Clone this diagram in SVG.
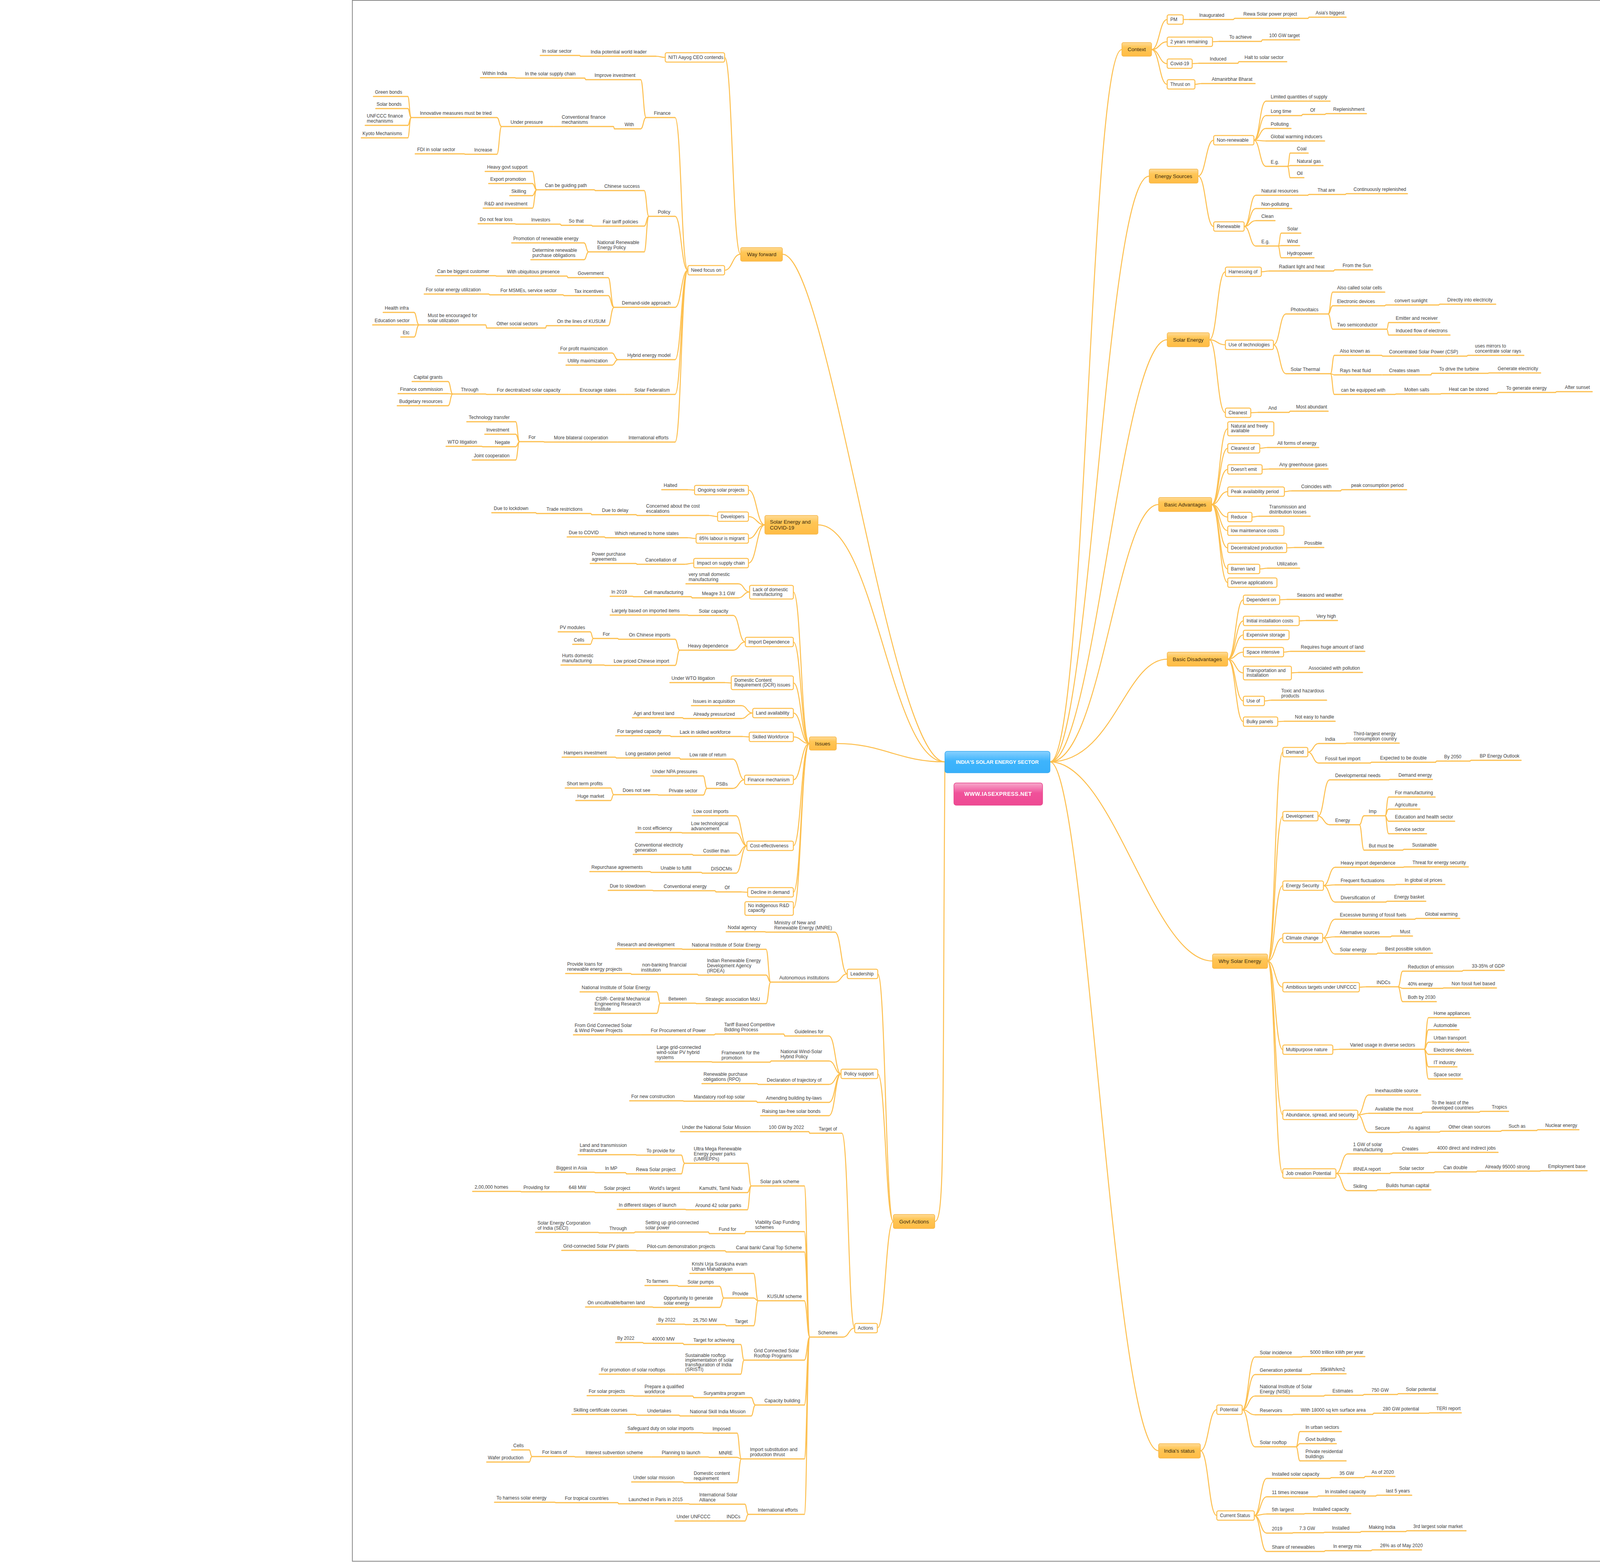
<svg xmlns="http://www.w3.org/2000/svg" width="5000" height="4000" viewBox="0 0 5000 4000">
<defs>
<linearGradient id="go" x1="0" y1="0" x2="0" y2="1"><stop offset="0" stop-color="#FFDB96"/><stop offset="0.35" stop-color="#FFC656"/><stop offset="1" stop-color="#FFBC45"/></linearGradient>
<linearGradient id="gb" x1="0" y1="0" x2="0" y2="1"><stop offset="0" stop-color="#88D1FF"/><stop offset="0.45" stop-color="#3EB4FC"/><stop offset="1" stop-color="#38B0FA"/></linearGradient>
<linearGradient id="gp" x1="0" y1="0" x2="0" y2="1"><stop offset="0" stop-color="#F7A8CB"/><stop offset="0.45" stop-color="#F0519A"/><stop offset="1" stop-color="#EE4A93"/></linearGradient>
<style>
.t{font-family:"Liberation Sans",Arial,sans-serif;font-size:12px;fill:#404040}
.u{fill:none;stroke:#FDBF4E;stroke-width:3;stroke-linecap:round}
.c path{fill:none;stroke:#FDBF4E;stroke-width:2.5}
.b{fill:#fff;stroke:#FDBF4E;stroke-width:2.5}
.m{fill:url(#go);stroke:#F6B544;stroke-width:1.5}
.mt{font-family:"Liberation Sans",Arial,sans-serif;font-size:13.5px;fill:#3a2a0c;text-anchor:middle}
.ct{font-family:"Liberation Sans",Arial,sans-serif;font-weight:bold;fill:#fff;text-anchor:middle}
</style>
</defs>
<rect width="5000" height="4000" fill="#fff"/>
<rect x="902" y="1" width="3196" height="3997" fill="none" stroke="#8a8a8a" stroke-width="2"/>
<g id="connectors" class="c">
<path d="M2688 1951C2780 1951 2790 127 2872 127"/>
<path d="M2688 1951C2790 1951 2830 451 2942 451"/>
<path d="M2688 1951C2800 1951 2870 870 2988 870"/>
<path d="M2688 1951C2820 1951 2860 1292 2966 1292"/>
<path d="M2688 1951C2850 1951 2880 1688 2988 1688"/>
<path d="M2688 1951C2850 1951 2950 2461 3104 2461"/>
<path d="M2688 1951C2780 1951 2850 3715 2966 3715"/>
<path d="M2419 1951C2280 1951 2120 651 2003 651"/>
<path d="M2419 1951C2280 1951 2240 1344 2094 1344"/>
<path d="M2419 1951C2300 1951 2260 1904 2141 1904"/>
<path d="M2419 1951C2412 2900 2420 3128 2393 3128"/>
<path d="M2948 127C2968 127 2968 50 2988 50"/>
<path d="M2948 127C2968 127 2968 107 2988 107"/>
<path d="M2948 127C2968 127 2968 163 2988 163"/>
<path d="M2948 127C2968 127 2968 216 2988 216"/>
<path d="M3029 50H3045"/>
<path d="M3157 50C3159 50 3159 47 3161 47"/>
<path d="M3348 47C3350 47 3350 44 3351 44"/>
<path d="M3104 107C3112 107 3112 106 3121 106"/>
<path d="M3229 106C3230 106 3230 102 3232 102"/>
<path d="M3052 163C3060 163 3060 162 3069 162"/>
<path d="M3169 162C3170 162 3170 158 3172 158"/>
<path d="M3059 216C3067 216 3067 214 3076 214"/>
<path d="M3067 451C3087 451 3087 359 3107 359"/>
<path d="M3067 451C3087 451 3087 580 3107 580"/>
<path d="M3210 359C3225 359 3225 259 3241 259"/>
<path d="M3210 359C3225 359 3225 296 3241 296"/>
<path d="M3210 359C3225 359 3225 329 3241 329"/>
<path d="M3210 359C3225 359 3225 361 3241 361"/>
<path d="M3210 359C3225 359 3225 426 3241 426"/>
<path d="M3332 296C3333 296 3333 293 3335 293"/>
<path d="M3392 293C3393 293 3393 291 3395 291"/>
<path d="M3296 426C3300 426 3300 392 3303 392"/>
<path d="M3296 426C3300 426 3300 424 3303 424"/>
<path d="M3296 426C3300 426 3300 455 3303 455"/>
<path d="M3185 580C3200 580 3200 500 3215 500"/>
<path d="M3185 580C3200 580 3200 534 3215 534"/>
<path d="M3185 580C3200 580 3200 565 3215 565"/>
<path d="M3185 580C3200 580 3200 630 3215 630"/>
<path d="M3348 500C3349 500 3349 498 3351 498"/>
<path d="M3444 498C3445 498 3445 496 3447 496"/>
<path d="M3272 630C3276 630 3276 597 3280 597"/>
<path d="M3272 630C3276 630 3276 629 3280 629"/>
<path d="M3272 630C3276 630 3276 660 3280 660"/>
<path d="M3096 870C3116 870 3116 696 3137 696"/>
<path d="M3096 870C3116 870 3116 883 3137 883"/>
<path d="M3096 870C3116 870 3116 1057 3137 1057"/>
<path d="M3229 696C3239 696 3239 694 3249 694"/>
<path d="M3414 694C3415 694 3415 691 3417 691"/>
<path d="M3260 883C3276 883 3276 804 3292 804"/>
<path d="M3260 883C3276 883 3276 957 3292 957"/>
<path d="M3400 804C3406 804 3406 748 3412 748"/>
<path d="M3400 804C3406 804 3406 783 3412 783"/>
<path d="M3400 804C3406 804 3406 843 3412 843"/>
<path d="M3545 783C3546 783 3546 781 3548 781"/>
<path d="M3683 781C3684 781 3684 779 3686 779"/>
<path d="M3550 843C3553 843 3553 826 3555 826"/>
<path d="M3550 843C3553 843 3553 858 3555 858"/>
<path d="M3406 957C3411 957 3411 910 3416 910"/>
<path d="M3406 957C3411 957 3411 960 3416 960"/>
<path d="M3406 957C3411 957 3411 1010 3416 1010"/>
<path d="M3537 910C3538 910 3538 912 3540 912"/>
<path d="M3755 912C3756 912 3756 910 3758 910"/>
<path d="M3536 960H3540"/>
<path d="M3663 960C3664 960 3664 956 3666 956"/>
<path d="M3809 956C3810 956 3810 955 3812 955"/>
<path d="M3571 1010C3572 1010 3572 1009 3574 1009"/>
<path d="M3687 1009C3688 1009 3688 1008 3690 1008"/>
<path d="M3832 1008C3833 1008 3833 1005 3835 1005"/>
<path d="M3982 1005C3983 1005 3983 1003 3985 1003"/>
<path d="M3202 1057C3211 1057 3211 1056 3221 1056"/>
<path d="M3300 1056C3301 1056 3301 1053 3303 1053"/>
<path d="M3102 1292C3122 1292 3122 1098 3143 1098"/>
<path d="M3102 1292C3122 1292 3122 1148 3143 1148"/>
<path d="M3102 1292C3122 1292 3122 1202 3143 1202"/>
<path d="M3102 1292C3122 1292 3122 1259 3143 1259"/>
<path d="M3102 1292C3122 1292 3122 1324 3143 1324"/>
<path d="M3102 1292C3122 1292 3122 1359 3143 1359"/>
<path d="M3102 1292C3122 1292 3122 1403 3143 1403"/>
<path d="M3102 1292C3122 1292 3122 1457 3143 1457"/>
<path d="M3102 1292C3122 1292 3122 1492 3143 1492"/>
<path d="M3225 1148C3235 1148 3235 1146 3245 1146"/>
<path d="M3231 1202C3240 1202 3240 1201 3250 1201"/>
<path d="M3288 1259C3297 1259 3297 1257 3307 1257"/>
<path d="M3432 1257C3433 1257 3433 1254 3435 1254"/>
<path d="M3205 1324C3214 1324 3214 1322 3223 1322"/>
<path d="M3294 1403C3304 1403 3304 1402 3314 1402"/>
<path d="M3225 1457C3235 1457 3235 1455 3245 1455"/>
<path d="M3143 1688C3163 1688 3163 1536 3183 1536"/>
<path d="M3143 1688C3163 1688 3163 1590 3183 1590"/>
<path d="M3143 1688C3163 1688 3163 1626 3183 1626"/>
<path d="M3143 1688C3163 1688 3163 1670 3183 1670"/>
<path d="M3143 1688C3163 1688 3163 1723 3183 1723"/>
<path d="M3143 1688C3163 1688 3163 1795 3183 1795"/>
<path d="M3143 1688C3163 1688 3163 1848 3183 1848"/>
<path d="M3276 1536C3285 1536 3285 1535 3295 1535"/>
<path d="M3326 1590C3335 1590 3335 1589 3344 1589"/>
<path d="M3286 1670C3295 1670 3295 1668 3304 1668"/>
<path d="M3306 1723C3315 1723 3315 1722 3324 1722"/>
<path d="M3237 1795C3246 1795 3246 1793 3255 1793"/>
<path d="M3271 1848C3279 1848 3279 1847 3288 1847"/>
<path d="M3245 2461C3264 2461 3264 1926 3284 1926"/>
<path d="M3245 2461C3264 2461 3264 2090 3284 2090"/>
<path d="M3245 2461C3264 2461 3264 2268 3284 2268"/>
<path d="M3245 2461C3264 2461 3264 2402 3284 2402"/>
<path d="M3245 2461C3264 2461 3264 2528 3284 2528"/>
<path d="M3245 2461C3264 2461 3264 2688 3284 2688"/>
<path d="M3245 2461C3264 2461 3264 2855 3284 2855"/>
<path d="M3245 2461C3264 2461 3264 3005 3284 3005"/>
<path d="M3348 1926C3362 1926 3362 1904 3376 1904"/>
<path d="M3348 1926C3362 1926 3362 1954 3376 1954"/>
<path d="M3444 1904C3445 1904 3445 1903 3447 1903"/>
<path d="M3508 1954C3509 1954 3509 1952 3511 1952"/>
<path d="M3675 1952C3676 1952 3676 1949 3678 1949"/>
<path d="M3763 1949C3764 1949 3764 1947 3766 1947"/>
<path d="M3374 2090C3389 2090 3389 1997 3404 1997"/>
<path d="M3374 2090C3389 2090 3389 2112 3404 2112"/>
<path d="M3555 1997C3556 1997 3556 1996 3558 1996"/>
<path d="M3480 2112C3486 2112 3486 2089 3492 2089"/>
<path d="M3480 2112C3486 2112 3486 2177 3492 2177"/>
<path d="M3546 2089C3550 2089 3550 2041 3555 2041"/>
<path d="M3546 2089C3550 2089 3550 2072 3555 2072"/>
<path d="M3546 2089C3550 2089 3550 2103 3555 2103"/>
<path d="M3546 2089C3550 2089 3550 2135 3555 2135"/>
<path d="M3591 2177C3592 2177 3592 2175 3594 2175"/>
<path d="M3388 2268C3403 2268 3403 2221 3418 2221"/>
<path d="M3388 2268C3403 2268 3403 2266 3418 2266"/>
<path d="M3388 2268C3403 2268 3403 2310 3418 2310"/>
<path d="M3592 2221C3593 2221 3593 2220 3595 2220"/>
<path d="M3571 2266C3572 2266 3572 2265 3574 2265"/>
<path d="M3548 2310C3549 2310 3549 2308 3551 2308"/>
<path d="M3386 2402C3402 2402 3402 2354 3418 2354"/>
<path d="M3386 2402C3402 2402 3402 2399 3418 2399"/>
<path d="M3386 2402C3402 2402 3402 2443 3418 2443"/>
<path d="M3622 2354C3623 2354 3623 2352 3625 2352"/>
<path d="M3560 2399C3561 2399 3561 2397 3563 2397"/>
<path d="M3524 2443C3525 2443 3525 2441 3527 2441"/>
<path d="M3480 2528C3489 2528 3489 2527 3498 2527"/>
<path d="M3579 2527C3585 2527 3585 2487 3591 2487"/>
<path d="M3579 2527C3585 2527 3585 2531 3591 2531"/>
<path d="M3579 2527C3585 2527 3585 2565 3591 2565"/>
<path d="M3743 2487C3744 2487 3744 2485 3746 2485"/>
<path d="M3693 2531C3694 2531 3694 2530 3696 2530"/>
<path d="M3412 2688C3421 2688 3421 2687 3430 2687"/>
<path d="M3646 2687C3651 2687 3651 2606 3657 2606"/>
<path d="M3646 2687C3651 2687 3651 2637 3657 2637"/>
<path d="M3646 2687C3651 2687 3651 2669 3657 2669"/>
<path d="M3646 2687C3651 2687 3651 2700 3657 2700"/>
<path d="M3646 2687C3651 2687 3651 2732 3657 2732"/>
<path d="M3646 2687C3651 2687 3651 2763 3657 2763"/>
<path d="M3476 2855C3490 2855 3490 2804 3504 2804"/>
<path d="M3476 2855C3490 2855 3490 2851 3504 2851"/>
<path d="M3476 2855C3490 2855 3490 2900 3504 2900"/>
<path d="M3639 2851C3640 2851 3640 2848 3642 2848"/>
<path d="M3787 2848C3788 2848 3788 2846 3790 2846"/>
<path d="M3582 2900C3583 2900 3583 2899 3585 2899"/>
<path d="M3685 2899C3686 2899 3686 2897 3688 2897"/>
<path d="M3842 2897C3843 2897 3843 2895 3845 2895"/>
<path d="M3934 2895C3935 2895 3935 2893 3937 2893"/>
<path d="M3420 3005C3435 3005 3435 2955 3450 2955"/>
<path d="M3420 3005H3450"/>
<path d="M3420 3005C3435 3005 3435 3049 3450 3049"/>
<path d="M3563 2955C3564 2955 3564 2953 3566 2953"/>
<path d="M3655 2953C3656 2953 3656 2951 3658 2951"/>
<path d="M3558 3005C3559 3005 3559 3003 3561 3003"/>
<path d="M3671 3003C3672 3003 3672 3001 3674 3001"/>
<path d="M3779 3001C3780 3001 3780 2999 3782 2999"/>
<path d="M3942 2999C3943 2999 3943 2998 3945 2998"/>
<path d="M3524 3049C3525 3049 3525 3047 3527 3047"/>
<path d="M3073 3715C3094 3715 3094 3610 3115 3610"/>
<path d="M3073 3715C3094 3715 3094 3881 3115 3881"/>
<path d="M3180 3610C3196 3610 3196 3475 3213 3475"/>
<path d="M3180 3610C3196 3610 3196 3520 3213 3520"/>
<path d="M3180 3610C3196 3610 3196 3575 3213 3575"/>
<path d="M3180 3610C3196 3610 3196 3623 3213 3623"/>
<path d="M3180 3610C3196 3610 3196 3705 3213 3705"/>
<path d="M3332 3475C3333 3475 3333 3474 3335 3474"/>
<path d="M3354 3520C3355 3520 3355 3518 3357 3518"/>
<path d="M3389 3575C3390 3575 3390 3573 3392 3573"/>
<path d="M3489 3573C3490 3573 3490 3571 3492 3571"/>
<path d="M3577 3571C3578 3571 3578 3569 3580 3569"/>
<path d="M3308 3623C3309 3623 3309 3622 3311 3622"/>
<path d="M3514 3622C3515 3622 3515 3619 3517 3619"/>
<path d="M3657 3619C3658 3619 3658 3618 3660 3618"/>
<path d="M3318 3705C3323 3705 3323 3666 3328 3666"/>
<path d="M3318 3705C3323 3705 3323 3697 3328 3697"/>
<path d="M3318 3705C3323 3705 3323 3741 3328 3741"/>
<path d="M3211 3881C3227 3881 3227 3786 3243 3786"/>
<path d="M3211 3881C3227 3881 3227 3833 3243 3833"/>
<path d="M3211 3881C3227 3881 3227 3877 3243 3877"/>
<path d="M3211 3881C3227 3881 3227 3926 3243 3926"/>
<path d="M3211 3881C3227 3881 3227 3973 3243 3973"/>
<path d="M3405 3786C3406 3786 3406 3784 3408 3784"/>
<path d="M3492 3784C3493 3784 3493 3781 3495 3781"/>
<path d="M3372 3833C3373 3833 3373 3831 3375 3831"/>
<path d="M3522 3831C3523 3831 3523 3829 3525 3829"/>
<path d="M3338 3877C3339 3877 3339 3876 3341 3876"/>
<path d="M3308 3926C3309 3926 3309 3925 3311 3925"/>
<path d="M3388 3925C3389 3925 3389 3924 3391 3924"/>
<path d="M3482 3924C3483 3924 3483 3922 3485 3922"/>
<path d="M3599 3922C3600 3922 3600 3920 3602 3920"/>
<path d="M3390 3973C3391 3973 3391 3971 3393 3971"/>
<path d="M3510 3971C3511 3971 3511 3969 3513 3969"/>
<path d="M1896 651C1875 651 1875 147 1855 147"/>
<path d="M1896 651C1875 651 1875 692 1855 692"/>
<path d="M1703 147C1691 147 1691 144 1679 144"/>
<path d="M1486 144C1485 144 1485 142 1484 142"/>
<path d="M1761 692C1744 692 1744 301 1728 301"/>
<path d="M1761 692C1744 692 1744 554 1728 554"/>
<path d="M1761 692C1744 692 1744 787 1728 787"/>
<path d="M1761 692C1744 692 1744 921 1728 921"/>
<path d="M1761 692C1744 692 1744 1010 1728 1010"/>
<path d="M1761 692C1744 692 1744 1132 1728 1132"/>
<path d="M1654 301C1647 301 1647 204 1640 204"/>
<path d="M1654 301C1647 301 1647 330 1640 330"/>
<path d="M1500 204C1498 204 1498 200 1497 200"/>
<path d="M1321 200C1320 200 1320 199 1318 199"/>
<path d="M1573 330C1572 330 1572 324 1570 324"/>
<path d="M1419 324H1416"/>
<path d="M1284 324C1278 324 1278 301 1272 301"/>
<path d="M1284 324C1278 324 1278 395 1272 395"/>
<path d="M1053 301C1048 301 1048 247 1044 247"/>
<path d="M1053 301C1048 301 1048 278 1044 278"/>
<path d="M1053 301C1048 301 1048 321 1044 321"/>
<path d="M1053 301C1048 301 1048 353 1044 353"/>
<path d="M1191 395C1190 395 1190 394 1188 394"/>
<path d="M1661 554C1655 554 1655 488 1649 488"/>
<path d="M1661 554C1655 554 1655 579 1649 579"/>
<path d="M1661 554C1655 554 1655 645 1649 645"/>
<path d="M1524 488C1523 488 1523 486 1521 486"/>
<path d="M1374 486C1368 486 1368 439 1363 439"/>
<path d="M1374 486C1368 486 1368 470 1363 470"/>
<path d="M1374 486C1368 486 1368 501 1363 501"/>
<path d="M1374 486C1368 486 1368 533 1363 533"/>
<path d="M1517 579C1516 579 1516 577 1514 577"/>
<path d="M1437 577C1436 577 1436 574 1434 574"/>
<path d="M1321 574C1320 574 1320 573 1318 573"/>
<path d="M1507 645C1501 645 1501 622 1495 622"/>
<path d="M1507 645C1501 645 1501 665 1495 665"/>
<path d="M1572 787C1564 787 1564 711 1557 711"/>
<path d="M1572 787C1564 787 1564 757 1557 757"/>
<path d="M1572 787C1564 787 1564 834 1557 834"/>
<path d="M1454 711C1453 711 1453 707 1451 707"/>
<path d="M1271 707C1270 707 1270 706 1268 706"/>
<path d="M1444 757C1443 757 1443 755 1441 755"/>
<path d="M1254 755C1253 755 1253 753 1251 753"/>
<path d="M1399 834C1398 834 1398 840 1396 840"/>
<path d="M1246 840C1245 840 1245 832 1243 832"/>
<path d="M1073 832C1066 832 1066 800 1060 800"/>
<path d="M1073 832H1060"/>
<path d="M1073 832C1066 832 1066 863 1060 863"/>
<path d="M1582 921C1574 921 1574 904 1567 904"/>
<path d="M1582 921C1574 921 1574 935 1567 935"/>
<path d="M1602 1010H1599"/>
<path d="M1458 1010H1455"/>
<path d="M1246 1010C1245 1010 1245 1009 1243 1009"/>
<path d="M1159 1009C1153 1009 1153 977 1147 977"/>
<path d="M1159 1009C1153 1009 1153 1008 1147 1008"/>
<path d="M1159 1009C1153 1009 1153 1039 1147 1039"/>
<path d="M1582 1132H1579"/>
<path d="M1394 1132C1393 1132 1393 1131 1391 1131"/>
<path d="M1330 1131C1325 1131 1325 1080 1320 1080"/>
<path d="M1330 1131C1325 1131 1325 1112 1320 1112"/>
<path d="M1330 1131C1325 1131 1325 1144 1320 1144"/>
<path d="M1330 1131C1325 1131 1325 1178 1320 1178"/>
<path d="M1236 1144C1235 1144 1235 1143 1233 1143"/>
<path d="M1958 1344C1937 1344 1937 1255 1916 1255"/>
<path d="M1958 1344C1937 1344 1937 1323 1916 1323"/>
<path d="M1958 1344C1937 1344 1937 1379 1916 1379"/>
<path d="M1958 1344C1937 1344 1937 1442 1916 1442"/>
<path d="M1778 1255C1769 1255 1769 1254 1760 1254"/>
<path d="M1837 1323C1826 1323 1826 1320 1814 1320"/>
<path d="M1631 1320C1630 1320 1630 1318 1628 1318"/>
<path d="M1515 1318C1514 1318 1514 1315 1512 1315"/>
<path d="M1374 1315C1373 1315 1373 1313 1371 1313"/>
<path d="M1782 1379C1771 1379 1771 1377 1760 1377"/>
<path d="M1550 1377C1549 1377 1549 1375 1547 1375"/>
<path d="M1776 1442C1764 1442 1764 1445 1752 1445"/>
<path d="M1631 1445C1630 1445 1630 1443 1628 1443"/>
<path d="M2072 1904C2051 1904 2051 1516 2031 1516"/>
<path d="M2072 1904C2051 1904 2051 1644 2031 1644"/>
<path d="M2072 1904C2051 1904 2051 1749 2031 1749"/>
<path d="M2072 1904C2051 1904 2051 1826 2031 1826"/>
<path d="M2072 1904C2051 1904 2051 1887 2031 1887"/>
<path d="M2072 1904C2051 1904 2051 1997 2031 1997"/>
<path d="M2072 1904C2051 1904 2051 2166 2031 2166"/>
<path d="M2072 1904C2051 1904 2051 2285 2031 2285"/>
<path d="M2072 1904C2051 1904 2051 2326 2031 2326"/>
<path d="M1919 1516C1904 1516 1904 1495 1890 1495"/>
<path d="M1919 1516C1904 1516 1904 1531 1890 1531"/>
<path d="M1772 1531C1771 1531 1771 1528 1769 1528"/>
<path d="M1622 1528C1621 1528 1621 1527 1619 1527"/>
<path d="M1908 1644C1892 1644 1892 1576 1877 1576"/>
<path d="M1908 1644C1892 1644 1892 1665 1877 1665"/>
<path d="M1763 1576C1762 1576 1762 1575 1760 1575"/>
<path d="M1740 1665C1734 1665 1734 1637 1728 1637"/>
<path d="M1740 1665C1734 1665 1734 1704 1728 1704"/>
<path d="M1584 1637C1583 1637 1583 1635 1581 1635"/>
<path d="M1519 1635C1515 1635 1515 1618 1511 1618"/>
<path d="M1519 1635C1515 1635 1515 1650 1511 1650"/>
<path d="M1549 1704C1548 1704 1548 1703 1546 1703"/>
<path d="M1872 1749C1864 1749 1864 1748 1855 1748"/>
<path d="M1927 1826C1912 1826 1912 1807 1898 1807"/>
<path d="M1927 1826C1912 1826 1912 1840 1898 1840"/>
<path d="M1750 1840C1749 1840 1749 1838 1747 1838"/>
<path d="M1918 1887C1909 1887 1909 1886 1900 1886"/>
<path d="M1718 1886C1717 1886 1717 1884 1715 1884"/>
<path d="M1906 1997C1891 1997 1891 1944 1876 1944"/>
<path d="M1906 1997C1891 1997 1891 2019 1876 2019"/>
<path d="M1742 1944C1741 1944 1741 1941 1739 1941"/>
<path d="M1578 1941C1577 1941 1577 1939 1575 1939"/>
<path d="M1810 2019C1805 2019 1805 1987 1800 1987"/>
<path d="M1810 2019C1805 2019 1805 2036 1800 2036"/>
<path d="M1686 2036C1685 2036 1685 2035 1683 2035"/>
<path d="M1571 2035C1567 2035 1567 2018 1563 2018"/>
<path d="M1571 2035C1567 2035 1567 2050 1563 2050"/>
<path d="M1912 2166C1898 2166 1898 2089 1884 2089"/>
<path d="M1912 2166C1898 2166 1898 2133 1884 2133"/>
<path d="M1912 2166C1898 2166 1898 2190 1884 2190"/>
<path d="M1912 2166C1898 2166 1898 2236 1884 2236"/>
<path d="M1747 2133C1746 2133 1746 2132 1744 2132"/>
<path d="M1775 2190C1774 2190 1774 2188 1772 2188"/>
<path d="M1798 2236C1797 2236 1797 2234 1795 2234"/>
<path d="M1667 2234C1666 2234 1666 2232 1664 2232"/>
<path d="M1914 2285C1906 2285 1906 2284 1897 2284"/>
<path d="M1833 2284C1832 2284 1832 2281 1830 2281"/>
<path d="M1673 2281C1672 2281 1672 2280 1670 2280"/>
<path d="M2287 3128C2267 3128 2267 2494 2247 2494"/>
<path d="M2287 3128C2267 3128 2267 2750 2247 2750"/>
<path d="M2287 3128C2267 3128 2267 3401 2246 3401"/>
<path d="M2169 2494C2153 2494 2153 2387 2137 2387"/>
<path d="M2169 2494C2153 2494 2153 2515 2137 2515"/>
<path d="M1961 2387C1960 2387 1960 2386 1958 2386"/>
<path d="M1973 2515C1967 2515 1967 2431 1961 2431"/>
<path d="M1973 2515C1967 2515 1967 2497 1961 2497"/>
<path d="M1973 2515C1967 2515 1967 2570 1961 2570"/>
<path d="M1748 2431C1747 2431 1747 2430 1745 2430"/>
<path d="M1788 2497C1787 2497 1787 2495 1785 2495"/>
<path d="M1617 2495C1616 2495 1616 2493 1614 2493"/>
<path d="M1783 2570C1782 2570 1782 2569 1780 2569"/>
<path d="M1690 2569C1686 2569 1686 2540 1681 2540"/>
<path d="M1690 2569C1686 2569 1686 2595 1681 2595"/>
<path d="M2153 2750C2138 2750 2138 2653 2122 2653"/>
<path d="M2153 2750C2138 2750 2138 2717 2122 2717"/>
<path d="M2153 2750C2138 2750 2138 2777 2122 2777"/>
<path d="M2153 2750C2138 2750 2138 2823 2122 2823"/>
<path d="M2153 2750C2138 2750 2138 2857 2122 2857"/>
<path d="M2009 2653C2008 2653 2008 2648 2006 2648"/>
<path d="M1831 2648C1830 2648 1830 2650 1828 2650"/>
<path d="M1642 2650H1639"/>
<path d="M1974 2717C1973 2717 1973 2720 1971 2720"/>
<path d="M1824 2720C1823 2720 1823 2719 1821 2719"/>
<path d="M1941 2777C1940 2777 1940 2775 1938 2775"/>
<path d="M1939 2823C1938 2823 1938 2820 1936 2820"/>
<path d="M1751 2820C1750 2820 1750 2819 1748 2819"/>
<path d="M2188 3401C2172 3401 2172 2902 2155 2902"/>
<path d="M2188 3401C2173 3401 2173 3424 2158 3424"/>
<path d="M2073 2902C2072 2902 2072 2898 2070 2898"/>
<path d="M1945 2898H1942"/>
<path d="M2073 3424C2066 3424 2066 3037 2059 3037"/>
<path d="M2073 3424C2066 3424 2066 3154 2059 3154"/>
<path d="M2073 3424C2066 3424 2066 3206 2059 3206"/>
<path d="M2073 3424C2066 3424 2066 3331 2059 3331"/>
<path d="M2073 3424C2066 3424 2066 3483 2059 3483"/>
<path d="M2073 3424C2066 3424 2066 3598 2059 3598"/>
<path d="M2073 3424C2066 3424 2066 3736 2059 3736"/>
<path d="M2073 3424C2066 3424 2066 3878 2059 3878"/>
<path d="M1923 3037C1918 3037 1918 2979 1913 2979"/>
<path d="M1923 3037C1918 3037 1918 3054 1913 3054"/>
<path d="M1923 3037C1918 3037 1918 3098 1913 3098"/>
<path d="M1753 2979C1748 2979 1748 2958 1744 2958"/>
<path d="M1753 2979C1748 2979 1748 3006 1744 3006"/>
<path d="M1630 2958C1629 2958 1629 2957 1627 2957"/>
<path d="M1604 3006C1603 3006 1603 3003 1601 3003"/>
<path d="M1524 3003C1523 3003 1523 3002 1521 3002"/>
<path d="M1767 3054H1764"/>
<path d="M1639 3054H1636"/>
<path d="M1524 3054C1523 3054 1523 3052 1521 3052"/>
<path d="M1429 3052H1426"/>
<path d="M1335 3052C1334 3052 1334 3051 1332 3051"/>
<path d="M1757 3098C1756 3098 1756 3097 1754 3097"/>
<path d="M1909 3154C1908 3154 1908 3159 1906 3159"/>
<path d="M1816 3159C1815 3159 1815 3155 1813 3155"/>
<path d="M1626 3155C1625 3155 1625 3157 1623 3157"/>
<path d="M1534 3157C1533 3157 1533 3156 1531 3156"/>
<path d="M1859 3206C1858 3206 1858 3203 1856 3203"/>
<path d="M1630 3203C1629 3203 1629 3202 1627 3202"/>
<path d="M1941 3331C1935 3331 1935 3261 1929 3261"/>
<path d="M1941 3331C1935 3331 1935 3324 1929 3324"/>
<path d="M1941 3331C1935 3331 1935 3395 1929 3395"/>
<path d="M1853 3324C1848 3324 1848 3294 1842 3294"/>
<path d="M1853 3324C1848 3324 1848 3348 1842 3348"/>
<path d="M1737 3294C1736 3294 1736 3292 1734 3292"/>
<path d="M1673 3348C1672 3348 1672 3347 1670 3347"/>
<path d="M1859 3395C1858 3395 1858 3392 1856 3392"/>
<path d="M1755 3392C1754 3392 1754 3391 1752 3391"/>
<path d="M1905 3483C1900 3483 1900 3443 1896 3443"/>
<path d="M1905 3483C1900 3483 1900 3519 1896 3519"/>
<path d="M1751 3443C1750 3443 1750 3440 1748 3440"/>
<path d="M1648 3440C1647 3440 1647 3438 1645 3438"/>
<path d="M1730 3519H1727"/>
<path d="M1934 3598C1928 3598 1928 3579 1923 3579"/>
<path d="M1934 3598C1928 3598 1928 3626 1923 3626"/>
<path d="M1776 3579C1775 3579 1775 3575 1773 3575"/>
<path d="M1623 3575C1622 3575 1622 3574 1620 3574"/>
<path d="M1741 3626C1740 3626 1740 3624 1738 3624"/>
<path d="M1630 3624C1629 3624 1629 3622 1627 3622"/>
<path d="M1898 3736C1892 3736 1892 3670 1887 3670"/>
<path d="M1898 3736C1892 3736 1892 3732 1887 3732"/>
<path d="M1898 3736C1892 3736 1892 3797 1887 3797"/>
<path d="M1801 3670C1800 3670 1800 3669 1798 3669"/>
<path d="M1816 3732C1815 3732 1815 3731 1813 3731"/>
<path d="M1669 3731H1666"/>
<path d="M1473 3731C1472 3731 1472 3730 1470 3730"/>
<path d="M1362 3730C1358 3730 1358 3713 1355 3713"/>
<path d="M1362 3730C1358 3730 1358 3744 1355 3744"/>
<path d="M1751 3797C1750 3797 1750 3795 1748 3795"/>
<path d="M1916 3878C1911 3878 1911 3852 1907 3852"/>
<path d="M1916 3878C1911 3878 1911 3895 1907 3895"/>
<path d="M1766 3852C1765 3852 1765 3851 1763 3851"/>
<path d="M1584 3851C1583 3851 1583 3848 1581 3848"/>
<path d="M1423 3848C1422 3848 1422 3847 1420 3847"/>
<path d="M1834 3895H1831"/>
</g>
<g id="center"><rect x="2419" y="1924" width="269" height="55" rx="6" fill="url(#gb)" stroke="#35A9F2" stroke-width="1.5"/><text class="ct" x="2553" y="1956" font-size="13">INDIA'S SOLAR ENERGY SECTOR</text></g>
<g id="site"><rect x="2442" y="2005" width="227" height="57" rx="6" fill="url(#gp)" stroke="#E8438A" stroke-width="1.5"/><text class="ct" x="2555" y="2038" font-size="14" letter-spacing="0.5">WWW.IASEXPRESS.NET</text></g>
<g id="context"><rect class="m" x="2872" y="109" width="76" height="35" rx="4"/><text class="mt" x="2910" y="131">Context</text></g>
<g id="pm"><rect class="b" x="2988" y="38" width="41" height="24" rx="4"/><text class="t" x="2996" y="54">PM</text></g>
<g id="inaug"><text class="t" x="3070" y="43">Inaugurated</text><path class="u" d="M3045 50H3157"/></g>
<g id="rewa1"><text class="t" x="3183" y="40">Rewa Solar power project</text><path class="u" d="M3161 47H3348"/></g>
<g id="asia"><text class="t" x="3368" y="37">Asia's biggest</text><path class="u" d="M3351 44H3446"/></g>
<g id="yrs"><rect class="b" x="2988" y="95" width="116" height="24" rx="4"/><text class="t" x="2996" y="111">2 years remaining</text></g>
<g id="achieve"><text class="t" x="3147" y="99">To achieve</text><path class="u" d="M3121 106H3229"/></g>
<g id="gw100"><text class="t" x="3249" y="95">100 GW target</text><path class="u" d="M3232 102H3327"/></g>
<g id="covid"><rect class="b" x="2988" y="151" width="64" height="24" rx="4"/><text class="t" x="2996" y="167">Covid-19</text></g>
<g id="induced"><text class="t" x="3097" y="155">Induced</text><path class="u" d="M3069 162H3169"/></g>
<g id="halt"><text class="t" x="3186" y="151">Halt to solar sector</text><path class="u" d="M3172 158H3294"/></g>
<g id="thrust"><rect class="b" x="2988" y="204" width="71" height="24" rx="4"/><text class="t" x="2996" y="220">Thrust on</text></g>
<g id="atma"><text class="t" x="3102" y="207">Atmanirbhar Bharat</text><path class="u" d="M3076 214H3213"/></g>
<g id="energy"><rect class="m" x="2942" y="433" width="125" height="36" rx="4"/><text class="mt" x="3004" y="456">Energy Sources</text></g>
<g id="nonren"><rect class="b" x="3107" y="347" width="103" height="24" rx="4"/><text class="t" x="3115" y="363">Non-renewable</text></g>
<g id="limited"><text class="t" x="3253" y="252">Limited quantities of supply</text><path class="u" d="M3241 259H3405"/></g>
<g id="longtime"><text class="t" x="3253" y="289">Long time</text><path class="u" d="M3241 296H3332"/></g>
<g id="of1"><text class="t" x="3354" y="286">Of</text><path class="u" d="M3335 293H3392"/></g>
<g id="replen"><text class="t" x="3413" y="284">Replenishment</text><path class="u" d="M3395 291H3498"/></g>
<g id="polluting"><text class="t" x="3253" y="322">Polluting</text><path class="u" d="M3241 329H3305"/></g>
<g id="gwi"><text class="t" x="3253" y="354">Global warming inducers</text><path class="u" d="M3241 361H3391"/></g>
<g id="eg1"><text class="t" x="3253" y="419">E.g.</text><path class="u" d="M3241 426H3296"/></g>
<g id="coal"><text class="t" x="3320" y="385">Coal</text><path class="u" d="M3303 392H3349"/></g>
<g id="natgas"><text class="t" x="3320" y="417">Natural gas</text><path class="u" d="M3303 424H3387"/></g>
<g id="oil"><text class="t" x="3320" y="448">Oil</text><path class="u" d="M3303 455H3338"/></g>
<g id="ren"><rect class="b" x="3107" y="568" width="78" height="24" rx="4"/><text class="t" x="3115" y="584">Renewable</text></g>
<g id="natres"><text class="t" x="3229" y="493">Natural resources</text><path class="u" d="M3215 500H3348"/></g>
<g id="thatare"><text class="t" x="3373" y="491">That are</text><path class="u" d="M3351 498H3444"/></g>
<g id="contrep"><text class="t" x="3465" y="489">Continuously replenished</text><path class="u" d="M3447 496H3603"/></g>
<g id="nonpol"><text class="t" x="3229" y="527">Non-polluting</text><path class="u" d="M3215 534H3307"/></g>
<g id="clean"><text class="t" x="3229" y="558">Clean</text><path class="u" d="M3215 565H3264"/></g>
<g id="eg2"><text class="t" x="3229" y="623">E.g.</text><path class="u" d="M3215 630H3272"/></g>
<g id="solar1"><text class="t" x="3295" y="590">Solar</text><path class="u" d="M3280 597H3330"/></g>
<g id="wind"><text class="t" x="3295" y="622">Wind</text><path class="u" d="M3280 629H3327"/></g>
<g id="hydro"><text class="t" x="3295" y="653">Hydropower</text><path class="u" d="M3280 660H3364"/></g>
<g id="solar"><rect class="m" x="2988" y="852" width="108" height="36" rx="4"/><text class="mt" x="3042" y="875">Solar Energy</text></g>
<g id="harness"><rect class="b" x="3137" y="684" width="92" height="24" rx="4"/><text class="t" x="3145" y="700">Harnessing of</text></g>
<g id="radiant"><text class="t" x="3274" y="687">Radiant light and heat</text><path class="u" d="M3249 694H3414"/></g>
<g id="fromsun"><text class="t" x="3437" y="684">From the Sun</text><path class="u" d="M3417 691H3514"/></g>
<g id="usetech"><rect class="b" x="3137" y="871" width="123" height="24" rx="4"/><text class="t" x="3145" y="887">Use of technologies</text></g>
<g id="pv"><text class="t" x="3304" y="797">Photovoltaics</text><path class="u" d="M3292 804H3400"/></g>
<g id="cells1"><text class="t" x="3423" y="741">Also called solar cells</text><path class="u" d="M3412 748H3545"/></g>
<g id="edev"><text class="t" x="3423" y="776">Electronic devices</text><path class="u" d="M3412 783H3545"/></g>
<g id="convert"><text class="t" x="3570" y="774">convert sunlight</text><path class="u" d="M3548 781H3683"/></g>
<g id="directly"><text class="t" x="3705" y="772">Directly into electricity</text><path class="u" d="M3686 779H3829"/></g>
<g id="twosemi"><text class="t" x="3423" y="836">Two semiconductor</text><path class="u" d="M3412 843H3550"/></g>
<g id="emitter"><text class="t" x="3573" y="819">Emitter and receiver</text><path class="u" d="M3555 826H3686"/></g>
<g id="flow"><text class="t" x="3573" y="851">Induced flow of electrons</text><path class="u" d="M3555 858H3712"/></g>
<g id="thermal"><text class="t" x="3304" y="950">Solar Thermal</text><path class="u" d="M3292 957H3406"/></g>
<g id="aka"><text class="t" x="3430" y="903">Also known as</text><path class="u" d="M3416 910H3537"/></g>
<g id="csp"><text class="t" x="3556" y="905">Concentrated Solar Power (CSP)</text><path class="u" d="M3540 912H3755"/></g>
<g id="mirrors"><text class="t" x="3776" y="890">uses mirrors to<tspan x="3776" dy="13">concentrate solar rays</tspan></text><path class="u" d="M3758 910H3901"/></g>
<g id="rays"><text class="t" x="3430" y="953">Rays heat fluid</text><path class="u" d="M3416 960H3536"/></g>
<g id="steam"><text class="t" x="3556" y="953">Creates steam</text><path class="u" d="M3540 960H3663"/></g>
<g id="turbine"><text class="t" x="3684" y="949">To drive the turbine</text><path class="u" d="M3666 956H3809"/></g>
<g id="genelec"><text class="t" x="3834" y="948">Generate electricity</text><path class="u" d="M3812 955H3944"/></g>
<g id="equip"><text class="t" x="3433" y="1003">can be equipped with</text><path class="u" d="M3416 1010H3571"/></g>
<g id="molten"><text class="t" x="3595" y="1002">Molten salts</text><path class="u" d="M3574 1009H3687"/></g>
<g id="stored"><text class="t" x="3709" y="1001">Heat can be stored</text><path class="u" d="M3690 1008H3832"/></g>
<g id="togen"><text class="t" x="3856" y="998">To generate energy</text><path class="u" d="M3835 1005H3982"/></g>
<g id="sunset"><text class="t" x="4006" y="996">After sunset</text><path class="u" d="M3985 1003H4076"/></g>
<g id="cleanest"><rect class="b" x="3137" y="1045" width="65" height="24" rx="4"/><text class="t" x="3145" y="1061">Cleanest</text></g>
<g id="and1"><text class="t" x="3247" y="1049">And</text><path class="u" d="M3221 1056H3300"/></g>
<g id="abundant"><text class="t" x="3318" y="1046">Most abundant</text><path class="u" d="M3303 1053H3400"/></g>
<g id="adv"><rect class="m" x="2966" y="1274" width="136" height="36" rx="4"/><text class="mt" x="3034" y="1297">Basic Advantages</text></g>
<g id="natfree"><rect class="b" x="3143" y="1080" width="118" height="36" rx="4"/><text class="t" x="3151" y="1095">Natural and freely<tspan x="3151" dy="12">available</tspan></text></g>
<g id="cleanof"><rect class="b" x="3143" y="1136" width="82" height="24" rx="4"/><text class="t" x="3151" y="1152">Cleanest of</text></g>
<g id="allforms"><text class="t" x="3270" y="1139">All forms of energy</text><path class="u" d="M3245 1146H3376"/></g>
<g id="noemit"><rect class="b" x="3143" y="1190" width="88" height="24" rx="4"/><text class="t" x="3151" y="1206">Doesn't emit</text></g>
<g id="ghg"><text class="t" x="3275" y="1194">Any greenhouse gases</text><path class="u" d="M3250 1201H3400"/></g>
<g id="peak"><rect class="b" x="3143" y="1247" width="145" height="24" rx="4"/><text class="t" x="3151" y="1263">Peak availability period</text></g>
<g id="coinc"><text class="t" x="3331" y="1250">Coincides with</text><path class="u" d="M3307 1257H3432"/></g>
<g id="peakc"><text class="t" x="3459" y="1247">peak consumption period</text><path class="u" d="M3435 1254H3601"/></g>
<g id="reduce"><rect class="b" x="3143" y="1312" width="62" height="24" rx="4"/><text class="t" x="3151" y="1328">Reduce</text></g>
<g id="tdl"><text class="t" x="3249" y="1302">Transmission and<tspan x="3249" dy="13">distribution losses</tspan></text><path class="u" d="M3223 1322H3354"/></g>
<g id="lowm"><rect class="b" x="3143" y="1347" width="144" height="24" rx="4"/><text class="t" x="3151" y="1363">low maintenance costs</text></g>
<g id="decen"><rect class="b" x="3143" y="1391" width="151" height="24" rx="4"/><text class="t" x="3151" y="1407">Decentralized production</text></g>
<g id="possible"><text class="t" x="3339" y="1395">Possible</text><path class="u" d="M3314 1402H3389"/></g>
<g id="barren"><rect class="b" x="3143" y="1445" width="82" height="24" rx="4"/><text class="t" x="3151" y="1461">Barren land</text></g>
<g id="util"><text class="t" x="3269" y="1448">Utilization</text><path class="u" d="M3245 1455H3327"/></g>
<g id="diverse"><rect class="b" x="3143" y="1480" width="126" height="24" rx="4"/><text class="t" x="3151" y="1496">Diverse applications</text></g>
<g id="dis"><rect class="m" x="2988" y="1670" width="155" height="36" rx="4"/><text class="mt" x="3065" y="1693">Basic Disadvantages</text></g>
<g id="dep"><rect class="b" x="3183" y="1524" width="93" height="24" rx="4"/><text class="t" x="3191" y="1540">Dependent on</text></g>
<g id="seasons"><text class="t" x="3320" y="1528">Seasons and weather</text><path class="u" d="M3295 1535H3438"/></g>
<g id="initial"><rect class="b" x="3183" y="1578" width="143" height="24" rx="4"/><text class="t" x="3191" y="1594">Initial installation costs</text></g>
<g id="veryhigh"><text class="t" x="3370" y="1582">Very high</text><path class="u" d="M3344 1589H3424"/></g>
<g id="storage"><rect class="b" x="3183" y="1614" width="117" height="24" rx="4"/><text class="t" x="3191" y="1630">Expensive storage</text></g>
<g id="space"><rect class="b" x="3183" y="1658" width="103" height="24" rx="4"/><text class="t" x="3191" y="1674">Space intensive</text></g>
<g id="reqland"><text class="t" x="3330" y="1661">Requires huge amount of land</text><path class="u" d="M3304 1668H3494"/></g>
<g id="transp"><rect class="b" x="3183" y="1706" width="123" height="35" rx="4"/><text class="t" x="3191" y="1721">Transportation and<tspan x="3191" dy="12">installation</tspan></text></g>
<g id="assoc"><text class="t" x="3350" y="1715">Associated with pollution</text><path class="u" d="M3324 1722H3488"/></g>
<g id="useof"><rect class="b" x="3183" y="1783" width="54" height="24" rx="4"/><text class="t" x="3191" y="1799">Use of</text></g>
<g id="toxic"><text class="t" x="3280" y="1773">Toxic and hazardous<tspan x="3280" dy="13">products</tspan></text><path class="u" d="M3255 1793H3396"/></g>
<g id="bulky"><rect class="b" x="3183" y="1836" width="88" height="24" rx="4"/><text class="t" x="3191" y="1852">Bulky panels</text></g>
<g id="noteasy"><text class="t" x="3315" y="1840">Not easy to handle</text><path class="u" d="M3288 1847H3418"/></g>
<g id="why"><rect class="m" x="3104" y="2443" width="141" height="37" rx="4"/><text class="mt" x="3174" y="2466">Why Solar Energy</text></g>
<g id="demand"><rect class="b" x="3284" y="1914" width="64" height="24" rx="4"/><text class="t" x="3292" y="1930">Demand</text></g>
<g id="india"><text class="t" x="3392" y="1897">India</text><path class="u" d="M3376 1904H3444"/></g>
<g id="third"><text class="t" x="3465" y="1883">Third-largest energy<tspan x="3465" dy="13">consumption country</tspan></text><path class="u" d="M3447 1903H3582"/></g>
<g id="fossil"><text class="t" x="3392" y="1947">Fossil fuel import</text><path class="u" d="M3376 1954H3508"/></g>
<g id="double"><text class="t" x="3533" y="1945">Expected to be double</text><path class="u" d="M3511 1952H3675"/></g>
<g id="by2050"><text class="t" x="3697" y="1942">By 2050</text><path class="u" d="M3678 1949H3763"/></g>
<g id="bp"><text class="t" x="3788" y="1940">BP Energy Outlook</text><path class="u" d="M3766 1947H3894"/></g>
<g id="devel"><rect class="b" x="3284" y="2078" width="90" height="24" rx="4"/><text class="t" x="3292" y="2094">Development</text></g>
<g id="devneeds"><text class="t" x="3418" y="1990">Developmental needs</text><path class="u" d="M3404 1997H3555"/></g>
<g id="demen"><text class="t" x="3580" y="1989">Demand energy</text><path class="u" d="M3558 1996H3667"/></g>
<g id="energy2"><text class="t" x="3418" y="2105">Energy</text><path class="u" d="M3404 2112H3480"/></g>
<g id="imp"><text class="t" x="3504" y="2082">Imp</text><path class="u" d="M3492 2089H3546"/></g>
<g id="manuf"><text class="t" x="3571" y="2034">For manufacturing</text><path class="u" d="M3555 2041H3674"/></g>
<g id="agri"><text class="t" x="3571" y="2065">Agriculture</text><path class="u" d="M3555 2072H3635"/></g>
<g id="edu"><text class="t" x="3571" y="2096">Education and health sector</text><path class="u" d="M3555 2103H3724"/></g>
<g id="serv"><text class="t" x="3571" y="2128">Service sector</text><path class="u" d="M3555 2135H3652"/></g>
<g id="mustbe"><text class="t" x="3504" y="2170">But must be</text><path class="u" d="M3492 2177H3591"/></g>
<g id="sustain"><text class="t" x="3615" y="2168">Sustainable</text><path class="u" d="M3594 2175H3682"/></g>
<g id="esec"><rect class="b" x="3284" y="2256" width="104" height="24" rx="4"/><text class="t" x="3292" y="2272">Energy Security</text></g>
<g id="heavyimp"><text class="t" x="3432" y="2214">Heavy import dependence</text><path class="u" d="M3418 2221H3592"/></g>
<g id="threat"><text class="t" x="3616" y="2213">Threat for energy security</text><path class="u" d="M3595 2220H3759"/></g>
<g id="freq"><text class="t" x="3432" y="2259">Frequent fluctuations</text><path class="u" d="M3418 2266H3571"/></g>
<g id="oilp"><text class="t" x="3596" y="2258">In global oil prices</text><path class="u" d="M3574 2265H3699"/></g>
<g id="divers"><text class="t" x="3432" y="2303">Diversification of</text><path class="u" d="M3418 2310H3548"/></g>
<g id="basket"><text class="t" x="3569" y="2301">Energy basket</text><path class="u" d="M3551 2308H3650"/></g>
<g id="climate"><rect class="b" x="3284" y="2390" width="102" height="24" rx="4"/><text class="t" x="3292" y="2406">Climate change</text></g>
<g id="excess"><text class="t" x="3430" y="2347">Excessive burning of fossil fuels</text><path class="u" d="M3418 2354H3622"/></g>
<g id="gwarm"><text class="t" x="3648" y="2345">Global warming</text><path class="u" d="M3625 2352H3737"/></g>
<g id="alt"><text class="t" x="3430" y="2392">Alternative sources</text><path class="u" d="M3418 2399H3560"/></g>
<g id="must"><text class="t" x="3584" y="2390">Must</text><path class="u" d="M3563 2397H3616"/></g>
<g id="solen"><text class="t" x="3430" y="2436">Solar energy</text><path class="u" d="M3418 2443H3524"/></g>
<g id="best"><text class="t" x="3546" y="2434">Best possible solution</text><path class="u" d="M3527 2441H3667"/></g>
<g id="ambit"><rect class="b" x="3284" y="2516" width="196" height="24" rx="4"/><text class="t" x="3292" y="2532">Ambitious targets under UNFCCC</text></g>
<g id="indcs"><text class="t" x="3524" y="2520">INDCs</text><path class="u" d="M3498 2527H3579"/></g>
<g id="reduc"><text class="t" x="3604" y="2480">Reduction of emission</text><path class="u" d="M3591 2487H3743"/></g>
<g id="gdp"><text class="t" x="3768" y="2478">33-35% of GDP</text><path class="u" d="M3746 2485H3851"/></g>
<g id="pct40"><text class="t" x="3604" y="2524">40% energy</text><path class="u" d="M3591 2531H3693"/></g>
<g id="nonfossil"><text class="t" x="3716" y="2523">Non fossil fuel based</text><path class="u" d="M3696 2530H3831"/></g>
<g id="both"><text class="t" x="3604" y="2558">Both by 2030</text><path class="u" d="M3591 2565H3677"/></g>
<g id="multi"><rect class="b" x="3284" y="2676" width="128" height="24" rx="4"/><text class="t" x="3292" y="2692">Multipurpose nature</text></g>
<g id="varied"><text class="t" x="3456" y="2680">Varied usage in diverse sectors</text><path class="u" d="M3430 2687H3646"/></g>
<g id="home"><text class="t" x="3670" y="2599">Home appliances</text><path class="u" d="M3657 2606H3765"/></g>
<g id="auto"><text class="t" x="3670" y="2630">Automobile</text><path class="u" d="M3657 2637H3735"/></g>
<g id="urban"><text class="t" x="3670" y="2662">Urban transport</text><path class="u" d="M3657 2669H3760"/></g>
<g id="elecdev"><text class="t" x="3670" y="2693">Electronic devices</text><path class="u" d="M3657 2700H3772"/></g>
<g id="it"><text class="t" x="3670" y="2725">IT industry</text><path class="u" d="M3657 2732H3730"/></g>
<g id="spacesec"><text class="t" x="3670" y="2756">Space sector</text><path class="u" d="M3657 2763H3744"/></g>
<g id="abund"><rect class="b" x="3284" y="2843" width="192" height="24" rx="4"/><text class="t" x="3292" y="2859">Abundance, spread, and security</text></g>
<g id="inex"><text class="t" x="3520" y="2797">Inexhaustible source</text><path class="u" d="M3504 2804H3637"/></g>
<g id="avail"><text class="t" x="3520" y="2844">Available the most</text><path class="u" d="M3504 2851H3639"/></g>
<g id="least"><text class="t" x="3665" y="2828">To the least of the<tspan x="3665" dy="13">developed countries</tspan></text><path class="u" d="M3642 2848H3787"/></g>
<g id="tropics"><text class="t" x="3819" y="2839">Tropics</text><path class="u" d="M3790 2846H3862"/></g>
<g id="secure"><text class="t" x="3520" y="2893">Secure</text><path class="u" d="M3504 2900H3582"/></g>
<g id="against"><text class="t" x="3605" y="2892">As against</text><path class="u" d="M3585 2899H3685"/></g>
<g id="otherclean"><text class="t" x="3708" y="2890">Other clean sources</text><path class="u" d="M3688 2897H3842"/></g>
<g id="suchas"><text class="t" x="3862" y="2888">Such as</text><path class="u" d="M3845 2895H3934"/></g>
<g id="nuclear"><text class="t" x="3956" y="2886">Nuclear energy</text><path class="u" d="M3937 2893H4042"/></g>
<g id="job"><rect class="b" x="3284" y="2993" width="136" height="24" rx="4"/><text class="t" x="3292" y="3009">Job creation Potential</text></g>
<g id="gw1"><text class="t" x="3464" y="2935">1 GW  of solar<tspan x="3464" dy="13">manufacturing</tspan></text><path class="u" d="M3450 2955H3563"/></g>
<g id="creates"><text class="t" x="3589" y="2946">Creates</text><path class="u" d="M3566 2953H3655"/></g>
<g id="jobs4000"><text class="t" x="3679" y="2944">4000 direct and indirect jobs</text><path class="u" d="M3658 2951H3835"/></g>
<g id="irnea"><text class="t" x="3464" y="2998">IRNEA report</text><path class="u" d="M3450 3005H3558"/></g>
<g id="solsec"><text class="t" x="3582" y="2996">Solar sector</text><path class="u" d="M3561 3003H3671"/></g>
<g id="candouble"><text class="t" x="3695" y="2994">Can double</text><path class="u" d="M3674 3001H3779"/></g>
<g id="already"><text class="t" x="3802" y="2992">Already 95000 strong</text><path class="u" d="M3782 2999H3942"/></g>
<g id="empbase"><text class="t" x="3963" y="2991">Employment base</text><path class="u" d="M3945 2998H4063"/></g>
<g id="skiling"><text class="t" x="3464" y="3042">Skiling</text><path class="u" d="M3450 3049H3524"/></g>
<g id="builds"><text class="t" x="3548" y="3040">Builds human capital</text><path class="u" d="M3527 3047H3663"/></g>
<g id="status"><rect class="m" x="2966" y="3697" width="107" height="37" rx="4"/><text class="mt" x="3019" y="3720">India's status</text></g>
<g id="potential"><rect class="b" x="3115" y="3598" width="65" height="24" rx="4"/><text class="t" x="3123" y="3614">Potential</text></g>
<g id="incid"><text class="t" x="3225" y="3468">Solar incidence</text><path class="u" d="M3213 3475H3332"/></g>
<g id="kwh"><text class="t" x="3354" y="3467">5000 trillion kWh per year</text><path class="u" d="M3335 3474H3494"/></g>
<g id="genpot"><text class="t" x="3225" y="3513">Generation potential</text><path class="u" d="M3213 3520H3354"/></g>
<g id="km2"><text class="t" x="3380" y="3511">35kWh/km2</text><path class="u" d="M3357 3518H3446"/></g>
<g id="nise"><text class="t" x="3225" y="3555">National Institute of Solar<tspan x="3225" dy="13">Energy (NISE)</tspan></text><path class="u" d="M3213 3575H3389"/></g>
<g id="estim"><text class="t" x="3411" y="3566">Estimates</text><path class="u" d="M3392 3573H3489"/></g>
<g id="gw750"><text class="t" x="3511" y="3564">750 GW</text><path class="u" d="M3492 3571H3577"/></g>
<g id="solpot"><text class="t" x="3599" y="3562">Solar potential</text><path class="u" d="M3580 3569H3681"/></g>
<g id="reserv"><text class="t" x="3225" y="3616">Reservoirs</text><path class="u" d="M3213 3623H3308"/></g>
<g id="sqkm"><text class="t" x="3330" y="3615">With 18000 sq km surface area</text><path class="u" d="M3311 3622H3514"/></g>
<g id="gw280"><text class="t" x="3540" y="3612">280 GW potential</text><path class="u" d="M3517 3619H3657"/></g>
<g id="teri"><text class="t" x="3677" y="3611">TERI report</text><path class="u" d="M3660 3618H3741"/></g>
<g id="rooftop"><text class="t" x="3225" y="3698">Solar rooftop</text><path class="u" d="M3213 3705H3318"/></g>
<g id="urbansec"><text class="t" x="3342" y="3659">In urban sectors</text><path class="u" d="M3328 3666H3434"/></g>
<g id="govtb"><text class="t" x="3342" y="3690">Govt buildings</text><path class="u" d="M3328 3697H3421"/></g>
<g id="privres"><text class="t" x="3342" y="3721">Private residential<tspan x="3342" dy="13">buildings</tspan></text><path class="u" d="M3328 3741H3446"/></g>
<g id="current"><rect class="b" x="3115" y="3869" width="96" height="24" rx="4"/><text class="t" x="3123" y="3885">Current Status</text></g>
<g id="inst"><text class="t" x="3256" y="3779">Installed solar capacity</text><path class="u" d="M3243 3786H3405"/></g>
<g id="gw35"><text class="t" x="3429" y="3777">35 GW</text><path class="u" d="M3408 3784H3492"/></g>
<g id="asof"><text class="t" x="3511" y="3774">As of 2020</text><path class="u" d="M3495 3781H3571"/></g>
<g id="times11"><text class="t" x="3256" y="3826">11 times increase</text><path class="u" d="M3243 3833H3372"/></g>
<g id="instcap"><text class="t" x="3392" y="3824">In installed capacity</text><path class="u" d="M3375 3831H3522"/></g>
<g id="last5"><text class="t" x="3548" y="3822">last 5 years</text><path class="u" d="M3525 3829H3614"/></g>
<g id="fifth"><text class="t" x="3256" y="3870">5th largest</text><path class="u" d="M3243 3877H3338"/></g>
<g id="instcap2"><text class="t" x="3361" y="3869">Installed capacity</text><path class="u" d="M3341 3876H3458"/></g>
<g id="y2019"><text class="t" x="3256" y="3919">2019</text><path class="u" d="M3243 3926H3308"/></g>
<g id="gw73"><text class="t" x="3326" y="3918">7.3 GW</text><path class="u" d="M3311 3925H3388"/></g>
<g id="installed"><text class="t" x="3410" y="3917">Installed</text><path class="u" d="M3391 3924H3482"/></g>
<g id="making"><text class="t" x="3504" y="3915">Making India</text><path class="u" d="M3485 3922H3599"/></g>
<g id="third3"><text class="t" x="3618" y="3913">3rd largest solar market</text><path class="u" d="M3602 3920H3753"/></g>
<g id="share"><text class="t" x="3256" y="3966">Share of renewables</text><path class="u" d="M3243 3973H3390"/></g>
<g id="mix"><text class="t" x="3413" y="3964">In energy mix</text><path class="u" d="M3393 3971H3510"/></g>
<g id="may"><text class="t" x="3533" y="3962">26% as of May 2020</text><path class="u" d="M3513 3969H3639"/></g>
<g id="way"><rect class="m" x="1896" y="634" width="107" height="35" rx="4"/><text class="mt" x="1950" y="656">Way forward</text></g>
<g id="niti"><rect class="b" x="1703" y="135" width="152" height="24" rx="4"/><text class="t" x="1711" y="151">NITI Aayog CEO contends</text></g>
<g id="ipwl"><text class="t" x="1512" y="137">India potential world leader</text><path class="u" d="M1486 144H1679"/></g>
<g id="insolar"><text class="t" x="1388" y="135">In solar sector</text><path class="u" d="M1383 142H1484"/></g>
<g id="need"><rect class="b" x="1761" y="680" width="94" height="24" rx="4"/><text class="t" x="1769" y="696">Need focus on</text></g>
<g id="finance"><text class="t" x="1674" y="294">Finance</text><path class="u" d="M1654 301H1728"/></g>
<g id="improve"><text class="t" x="1522" y="197">Improve investment</text><path class="u" d="M1500 204H1640"/></g>
<g id="supply"><text class="t" x="1344" y="193">In the solar supply chain</text><path class="u" d="M1321 200H1497"/></g>
<g id="within"><text class="t" x="1235" y="192">Within India</text><path class="u" d="M1230 199H1318"/></g>
<g id="with"><text class="t" x="1599" y="323">With</text><path class="u" d="M1573 330H1640"/></g>
<g id="convfin"><text class="t" x="1438" y="304">Conventional finance<tspan x="1438" dy="13">mechanisms</tspan></text><path class="u" d="M1419 324H1570"/></g>
<g id="underp"><text class="t" x="1307" y="317">Under pressure</text><path class="u" d="M1284 324H1416"/></g>
<g id="innov"><text class="t" x="1075" y="294">Innovative measures must be tried</text><path class="u" d="M1053 301H1272"/></g>
<g id="greenb"><text class="t" x="960" y="240">Green bonds</text><path class="u" d="M956 247H1044"/></g>
<g id="solarb"><text class="t" x="964" y="271">Solar bonds</text><path class="u" d="M962 278H1044"/></g>
<g id="unfccc"><text class="t" x="939" y="301">UNFCCC finance<tspan x="939" dy="13">mechanisms</tspan></text><path class="u" d="M935 321H1044"/></g>
<g id="kyoto"><text class="t" x="928" y="346">Kyoto Mechanisms</text><path class="u" d="M925 353H1044"/></g>
<g id="increase"><text class="t" x="1214" y="388">Increase</text><path class="u" d="M1191 395H1272"/></g>
<g id="fdi"><text class="t" x="1068" y="387">FDI in solar sector</text><path class="u" d="M1063 394H1188"/></g>
<g id="policy"><text class="t" x="1684" y="547">Policy</text><path class="u" d="M1661 554H1728"/></g>
<g id="chinese"><text class="t" x="1547" y="481">Chinese success</text><path class="u" d="M1524 488H1649"/></g>
<g id="guiding"><text class="t" x="1395" y="479">Can be guiding path</text><path class="u" d="M1374 486H1521"/></g>
<g id="heavyg"><text class="t" x="1247" y="432">Heavy govt support</text><path class="u" d="M1242 439H1363"/></g>
<g id="export"><text class="t" x="1255" y="463">Export promotion</text><path class="u" d="M1251 470H1363"/></g>
<g id="skilling"><text class="t" x="1309" y="494">Skilling</text><path class="u" d="M1305 501H1363"/></g>
<g id="rnd"><text class="t" x="1240" y="526">R&amp;D and investment</text><path class="u" d="M1237 533H1363"/></g>
<g id="fair"><text class="t" x="1543" y="572">Fair tariff policies</text><path class="u" d="M1517 579H1649"/></g>
<g id="sothat"><text class="t" x="1456" y="570">So that</text><path class="u" d="M1437 577H1514"/></g>
<g id="investors"><text class="t" x="1360" y="567">Investors</text><path class="u" d="M1321 574H1434"/></g>
<g id="fear"><text class="t" x="1228" y="566">Do not fear loss</text><path class="u" d="M1224 573H1318"/></g>
<g id="nrep"><text class="t" x="1529" y="625">National Renewable<tspan x="1529" dy="13">Energy Policy</tspan></text><path class="u" d="M1507 645H1649"/></g>
<g id="promo"><text class="t" x="1314" y="615">Promotion of renewable energy</text><path class="u" d="M1310 622H1495"/></g>
<g id="determine"><text class="t" x="1363" y="645">Determine renewable<tspan x="1363" dy="13">purchase obligations</tspan></text><path class="u" d="M1359 665H1495"/></g>
<g id="demandside"><text class="t" x="1592" y="780">Demand-side approach</text><path class="u" d="M1572 787H1728"/></g>
<g id="govt1"><text class="t" x="1479" y="704">Government</text><path class="u" d="M1454 711H1557"/></g>
<g id="ubiq"><text class="t" x="1298" y="700">With ubiquitous presence</text><path class="u" d="M1271 707H1451"/></g>
<g id="biggest"><text class="t" x="1119" y="699">Can be biggest customer</text><path class="u" d="M1115 706H1268"/></g>
<g id="tax"><text class="t" x="1470" y="750">Tax incentives</text><path class="u" d="M1444 757H1557"/></g>
<g id="msme"><text class="t" x="1281" y="748">For MSMEs, service sector</text><path class="u" d="M1254 755H1441"/></g>
<g id="utiliz"><text class="t" x="1090" y="746">For solar energy utilization</text><path class="u" d="M1086 753H1251"/></g>
<g id="kusumlines"><text class="t" x="1426" y="827">On the lines of KUSUM</text><path class="u" d="M1399 834H1557"/></g>
<g id="social"><text class="t" x="1271" y="833">Other social sectors</text><path class="u" d="M1246 840H1396"/></g>
<g id="encour"><text class="t" x="1095" y="812">Must be encouraged for<tspan x="1095" dy="13">solar utilization</tspan></text><path class="u" d="M1073 832H1243"/></g>
<g id="health"><text class="t" x="985" y="793">Health infra</text><path class="u" d="M981 800H1060"/></g>
<g id="educ"><text class="t" x="959" y="825">Education sector</text><path class="u" d="M954 832H1060"/></g>
<g id="etc"><text class="t" x="1031" y="856">Etc</text><path class="u" d="M1026 863H1060"/></g>
<g id="hybrid"><text class="t" x="1606" y="914">Hybrid energy model</text><path class="u" d="M1582 921H1728"/></g>
<g id="profit"><text class="t" x="1434" y="897">For profit maximization</text><path class="u" d="M1430 904H1567"/></g>
<g id="utility"><text class="t" x="1453" y="928">Utility maximization</text><path class="u" d="M1449 935H1567"/></g>
<g id="federal"><text class="t" x="1624" y="1003">Solar Federalism</text><path class="u" d="M1602 1010H1728"/></g>
<g id="encst"><text class="t" x="1484" y="1003">Encourage states</text><path class="u" d="M1458 1010H1599"/></g>
<g id="decntr"><text class="t" x="1272" y="1003">For decntralized solar capacity</text><path class="u" d="M1246 1010H1455"/></g>
<g id="through1"><text class="t" x="1180" y="1002">Through</text><path class="u" d="M1159 1009H1243"/></g>
<g id="capgr"><text class="t" x="1059" y="970">Capital grants</text><path class="u" d="M1055 977H1147"/></g>
<g id="fincom"><text class="t" x="1024" y="1001">Finance commission</text><path class="u" d="M1019 1008H1147"/></g>
<g id="budget"><text class="t" x="1022" y="1032">Budgetary resources</text><path class="u" d="M1017 1039H1147"/></g>
<g id="intl1"><text class="t" x="1609" y="1125">International efforts</text><path class="u" d="M1582 1132H1728"/></g>
<g id="bilat"><text class="t" x="1418" y="1125">More bilateral cooperation</text><path class="u" d="M1394 1132H1579"/></g>
<g id="for1"><text class="t" x="1353" y="1124">For</text><path class="u" d="M1330 1131H1391"/></g>
<g id="techtr"><text class="t" x="1200" y="1073">Technology transfer</text><path class="u" d="M1195 1080H1320"/></g>
<g id="invest"><text class="t" x="1245" y="1105">Investment</text><path class="u" d="M1241 1112H1320"/></g>
<g id="negate"><text class="t" x="1267" y="1137">Negate</text><path class="u" d="M1236 1144H1320"/></g>
<g id="wto1"><text class="t" x="1146" y="1136">WTO litigation</text><path class="u" d="M1142 1143H1233"/></g>
<g id="joint"><text class="t" x="1213" y="1171">Joint cooperation</text><path class="u" d="M1209 1178H1320"/></g>
<g id="covid19"><rect class="m" x="1958" y="1320" width="136" height="48" rx="4"/><text class="mt" x="1971" y="1341" style="text-anchor:start">Solar Energy and<tspan x="1971" dy="15">COVID-19</tspan></text></g>
<g id="ongoing"><rect class="b" x="1778" y="1243" width="138" height="24" rx="4"/><text class="t" x="1786" y="1259">Ongoing solar projects</text></g>
<g id="halted"><text class="t" x="1699" y="1247">Halted</text><path class="u" d="M1694 1254H1760"/></g>
<g id="developers"><rect class="b" x="1837" y="1311" width="79" height="24" rx="4"/><text class="t" x="1845" y="1327">Developers</text></g>
<g id="concerned"><text class="t" x="1654" y="1300">Concerned about the cost<tspan x="1654" dy="13">escalations</tspan></text><path class="u" d="M1631 1320H1814"/></g>
<g id="delay"><text class="t" x="1541" y="1311">Due to delay</text><path class="u" d="M1515 1318H1628"/></g>
<g id="trade"><text class="t" x="1399" y="1308">Trade restrictions</text><path class="u" d="M1374 1315H1512"/></g>
<g id="lockdown"><text class="t" x="1264" y="1306">Due to lockdown</text><path class="u" d="M1259 1313H1371"/></g>
<g id="labour"><rect class="b" x="1782" y="1367" width="134" height="24" rx="4"/><text class="t" x="1790" y="1383">85% labour is migrant</text></g>
<g id="returned"><text class="t" x="1574" y="1370">Which returned to home states</text><path class="u" d="M1550 1377H1760"/></g>
<g id="duecovid"><text class="t" x="1456" y="1368">Due to COVID</text><path class="u" d="M1452 1375H1547"/></g>
<g id="impact"><rect class="b" x="1776" y="1430" width="140" height="24" rx="4"/><text class="t" x="1784" y="1446">Impact on supply chain</text></g>
<g id="cancel"><text class="t" x="1652" y="1438">Cancellation of</text><path class="u" d="M1631 1445H1752"/></g>
<g id="ppa"><text class="t" x="1515" y="1423">Power purchase<tspan x="1515" dy="13">agreements</tspan></text><path class="u" d="M1511 1443H1628"/></g>
<g id="issues"><rect class="m" x="2072" y="1887" width="69" height="34" rx="4"/><text class="mt" x="2106" y="1909">Issues</text></g>
<g id="lackdom"><rect class="b" x="1919" y="1499" width="112" height="35" rx="4"/><text class="t" x="1927" y="1514">Lack of domestic<tspan x="1927" dy="12">manufacturing</tspan></text></g>
<g id="verysmall"><text class="t" x="1763" y="1475">very small domestic<tspan x="1763" dy="13">manufacturing</tspan></text><path class="u" d="M1756 1495H1890"/></g>
<g id="meagre"><text class="t" x="1797" y="1524">Meagre 3.1 GW</text><path class="u" d="M1772 1531H1890"/></g>
<g id="cellman"><text class="t" x="1649" y="1521">Cell manufacturing</text><path class="u" d="M1622 1528H1769"/></g>
<g id="in2019"><text class="t" x="1565" y="1520">In 2019</text><path class="u" d="M1562 1527H1619"/></g>
<g id="importdep"><rect class="b" x="1908" y="1632" width="123" height="24" rx="4"/><text class="t" x="1916" y="1648">Import Dependence</text></g>
<g id="solcap"><text class="t" x="1789" y="1569">Solar capacity</text><path class="u" d="M1763 1576H1877"/></g>
<g id="largely"><text class="t" x="1566" y="1568">Largely based on imported items</text><path class="u" d="M1562 1575H1760"/></g>
<g id="heavydep"><text class="t" x="1761" y="1658">Heavy dependence</text><path class="u" d="M1740 1665H1877"/></g>
<g id="onchinese"><text class="t" x="1610" y="1630">On Chinese imports</text><path class="u" d="M1584 1637H1728"/></g>
<g id="for2"><text class="t" x="1543" y="1628">For</text><path class="u" d="M1519 1635H1581"/></g>
<g id="pvmod"><text class="t" x="1433" y="1611">PV modules</text><path class="u" d="M1429 1618H1511"/></g>
<g id="cells2"><text class="t" x="1469" y="1643">Cells</text><path class="u" d="M1466 1650H1511"/></g>
<g id="lowpriced"><text class="t" x="1571" y="1697">Low priced Chinese import</text><path class="u" d="M1549 1704H1728"/></g>
<g id="hurts"><text class="t" x="1439" y="1683">Hurts domestic<tspan x="1439" dy="13">manufacturing</tspan></text><path class="u" d="M1436 1703H1546"/></g>
<g id="dcr"><rect class="b" x="1872" y="1731" width="159" height="35" rx="4"/><text class="t" x="1880" y="1746">Domestic Content<tspan x="1880" dy="12">Requirement (DCR) issues</tspan></text></g>
<g id="wto2"><text class="t" x="1719" y="1741">Under WTO litigation</text><path class="u" d="M1715 1748H1855"/></g>
<g id="land"><rect class="b" x="1927" y="1814" width="104" height="24" rx="4"/><text class="t" x="1935" y="1830">Land availability</text></g>
<g id="acq"><text class="t" x="1774" y="1800">Issues in acquisition</text><path class="u" d="M1770 1807H1898"/></g>
<g id="pressur"><text class="t" x="1775" y="1833">Already pressurized</text><path class="u" d="M1750 1840H1898"/></g>
<g id="agri2"><text class="t" x="1622" y="1831">Agri and forest land</text><path class="u" d="M1619 1838H1747"/></g>
<g id="skilled"><rect class="b" x="1918" y="1875" width="113" height="24" rx="4"/><text class="t" x="1926" y="1891">Skilled Workforce</text></g>
<g id="lackskill"><text class="t" x="1740" y="1879">Lack in skilled workforce</text><path class="u" d="M1718 1886H1900"/></g>
<g id="targeted"><text class="t" x="1580" y="1877">For targeted capacity</text><path class="u" d="M1576 1884H1715"/></g>
<g id="finmech"><rect class="b" x="1906" y="1985" width="125" height="24" rx="4"/><text class="t" x="1914" y="2001">Finance mechanism</text></g>
<g id="lowrate"><text class="t" x="1765" y="1937">Low rate of return</text><path class="u" d="M1742 1944H1876"/></g>
<g id="gestation"><text class="t" x="1601" y="1934">Long gestation period</text><path class="u" d="M1578 1941H1739"/></g>
<g id="hampers"><text class="t" x="1443" y="1932">Hampers investment</text><path class="u" d="M1439 1939H1575"/></g>
<g id="psbs"><text class="t" x="1833" y="2012">PSBs</text><path class="u" d="M1810 2019H1876"/></g>
<g id="npa"><text class="t" x="1670" y="1980">Under NPA pressures</text><path class="u" d="M1666 1987H1800"/></g>
<g id="private2"><text class="t" x="1712" y="2029">Private sector</text><path class="u" d="M1686 2036H1800"/></g>
<g id="doesnot"><text class="t" x="1594" y="2028">Does not see</text><path class="u" d="M1571 2035H1683"/></g>
<g id="shortterm"><text class="t" x="1451" y="2011">Short term profits</text><path class="u" d="M1447 2018H1563"/></g>
<g id="huge"><text class="t" x="1478" y="2043">Huge market</text><path class="u" d="M1474 2050H1563"/></g>
<g id="costeff"><rect class="b" x="1912" y="2154" width="119" height="24" rx="4"/><text class="t" x="1920" y="2170">Cost-effectiveness</text></g>
<g id="lowcost"><text class="t" x="1775" y="2082">Low cost imports</text><path class="u" d="M1772 2089H1884"/></g>
<g id="lowtech"><text class="t" x="1769" y="2113">Low technological<tspan x="1769" dy="13">advancement</tspan></text><path class="u" d="M1747 2133H1884"/></g>
<g id="costeffic"><text class="t" x="1632" y="2125">In cost efficiency</text><path class="u" d="M1627 2132H1744"/></g>
<g id="costlier"><text class="t" x="1800" y="2183">Costlier than</text><path class="u" d="M1775 2190H1884"/></g>
<g id="convelec"><text class="t" x="1625" y="2168">Conventional electricity<tspan x="1625" dy="13">generation</tspan></text><path class="u" d="M1621 2188H1772"/></g>
<g id="disocm"><text class="t" x="1820" y="2229">DISOCMs</text><path class="u" d="M1798 2236H1884"/></g>
<g id="unable"><text class="t" x="1691" y="2227">Unable to fulfill</text><path class="u" d="M1667 2234H1795"/></g>
<g id="repurch"><text class="t" x="1514" y="2225">Repurchase agreements</text><path class="u" d="M1510 2232H1664"/></g>
<g id="decline"><rect class="b" x="1914" y="2273" width="117" height="24" rx="4"/><text class="t" x="1922" y="2289">Decline in demand</text></g>
<g id="of2"><text class="t" x="1855" y="2277">Of</text><path class="u" d="M1833 2284H1897"/></g>
<g id="convenergy"><text class="t" x="1699" y="2274">Conventional energy</text><path class="u" d="M1673 2281H1830"/></g>
<g id="slowdown"><text class="t" x="1561" y="2273">Due to slowdown</text><path class="u" d="M1557 2280H1670"/></g>
<g id="nord"><rect class="b" x="1907" y="2309" width="124" height="35" rx="4"/><text class="t" x="1915" y="2323">No indigenous R&amp;D<tspan x="1915" dy="12">capacity</tspan></text></g>
<g id="govt"><rect class="m" x="2287" y="3110" width="106" height="36" rx="4"/><text class="mt" x="2340" y="3133">Govt Actions</text></g>
<g id="leader"><rect class="b" x="2169" y="2482" width="78" height="24" rx="4"/><text class="t" x="2177" y="2498">Leadership</text></g>
<g id="mnre"><text class="t" x="1982" y="2367">Ministry of New and<tspan x="1982" dy="13">Renewable Energy (MNRE)</tspan></text><path class="u" d="M1961 2387H2137"/></g>
<g id="nodal"><text class="t" x="1863" y="2379">Nodal agency</text><path class="u" d="M1859 2386H1958"/></g>
<g id="auton"><text class="t" x="1995" y="2508">Autonomous institutions</text><path class="u" d="M1973 2515H2137"/></g>
<g id="nise2"><text class="t" x="1771" y="2424">National Institute of Solar Energy</text><path class="u" d="M1748 2431H1961"/></g>
<g id="rnd2"><text class="t" x="1580" y="2423">Research and development</text><path class="u" d="M1576 2430H1745"/></g>
<g id="irdea"><text class="t" x="1810" y="2464">Indian Renewable Energy<tspan x="1810" dy="13">Development Agency</tspan><tspan x="1810" dy="13">(IRDEA)</tspan></text><path class="u" d="M1788 2497H1961"/></g>
<g id="nbfi"><text class="t" x="1644" y="2475">non-banking financial<tspan x="1641" dy="13">institution</tspan></text><path class="u" d="M1617 2495H1785"/></g>
<g id="loans"><text class="t" x="1452" y="2473">Provide loans for<tspan x="1452" dy="13">renewable energy projects</tspan></text><path class="u" d="M1448 2493H1614"/></g>
<g id="strat"><text class="t" x="1806" y="2563">Strategic association  MoU</text><path class="u" d="M1783 2570H1961"/></g>
<g id="between"><text class="t" x="1711" y="2562">Between</text><path class="u" d="M1690 2569H1780"/></g>
<g id="nise3"><text class="t" x="1489" y="2533">National Institute of Solar Energy</text><path class="u" d="M1485 2540H1681"/></g>
<g id="csir"><text class="t" x="1525" y="2562">CSIR- Central Mechanical<tspan x="1522" dy="13">Engineering Research</tspan><tspan x="1522" dy="13">Institute</tspan></text><path class="u" d="M1520 2595H1681"/></g>
<g id="polsup"><rect class="b" x="2153" y="2738" width="94" height="24" rx="4"/><text class="t" x="2161" y="2754">Policy support</text></g>
<g id="guide"><text class="t" x="2034" y="2646">Guidelines for</text><path class="u" d="M2009 2653H2122"/></g>
<g id="tariff"><text class="t" x="1854" y="2628">Tariff Based Competitive<tspan x="1854" dy="13">Bidding Process</tspan></text><path class="u" d="M1831 2648H2006"/></g>
<g id="procure"><text class="t" x="1666" y="2643">For Procurement of Power</text><path class="u" d="M1642 2650H1828"/></g>
<g id="fromgrid"><text class="t" x="1471" y="2630">From Grid Connected Solar<tspan x="1471" dy="13">&amp; Wind Power Projects</tspan></text><path class="u" d="M1468 2650H1639"/></g>
<g id="windsolar"><text class="t" x="1998" y="2697">National Wind-Solar<tspan x="1998" dy="13">Hybrid Policy</tspan></text><path class="u" d="M1974 2717H2122"/></g>
<g id="framework"><text class="t" x="1847" y="2700">Framework for the<tspan x="1847" dy="13">promotion</tspan></text><path class="u" d="M1824 2720H1971"/></g>
<g id="largegrid"><text class="t" x="1681" y="2686">Large grid-connected<tspan x="1681" dy="13">wind-solar PV hybrid</tspan><tspan x="1681" dy="13">systems</tspan></text><path class="u" d="M1677 2719H1821"/></g>
<g id="trajectory"><text class="t" x="1963" y="2770">Declaration of trajectory of</text><path class="u" d="M1941 2777H2122"/></g>
<g id="rpo"><text class="t" x="1801" y="2755">Renewable purchase<tspan x="1801" dy="13">obligations (RPO)</tspan></text><path class="u" d="M1797 2775H1938"/></g>
<g id="bylaws"><text class="t" x="1961" y="2816">Amending building by-laws</text><path class="u" d="M1939 2823H2122"/></g>
<g id="mandatory"><text class="t" x="1776" y="2813">Mandatory roof-top solar</text><path class="u" d="M1751 2820H1936"/></g>
<g id="newcons"><text class="t" x="1616" y="2812">For new construction</text><path class="u" d="M1612 2819H1748"/></g>
<g id="bonds"><text class="t" x="1951" y="2850">Raising tax-free solar bonds</text><path class="u" d="M1947 2857H2122"/></g>
<g id="actions"><rect class="b" x="2188" y="3389" width="58" height="24" rx="4"/><text class="t" x="2196" y="3405">Actions</text></g>
<g id="targetof"><text class="t" x="2096" y="2895">Target of</text><path class="u" d="M2073 2902H2155"/></g>
<g id="gw2022"><text class="t" x="1968" y="2891">100 GW by 2022</text><path class="u" d="M1945 2898H2070"/></g>
<g id="nsm"><text class="t" x="1746" y="2891">Under the National Solar Mission</text><path class="u" d="M1742 2898H1942"/></g>
<g id="schemes"><text class="t" x="2094" y="3417">Schemes</text><path class="u" d="M2073 3424H2158"/></g>
<g id="park"><text class="t" x="1946" y="3030">Solar park scheme</text><path class="u" d="M1923 3037H2059"/></g>
<g id="umrepp"><text class="t" x="1776" y="2946">Ultra Mega Renewable<tspan x="1776" dy="13">Energy power parks</tspan><tspan x="1776" dy="13">(UMREPPs)</tspan></text><path class="u" d="M1753 2979H1913"/></g>
<g id="provide1"><text class="t" x="1655" y="2951">To provide for</text><path class="u" d="M1630 2958H1744"/></g>
<g id="landtr"><text class="t" x="1484" y="2937">Land and transmission<tspan x="1484" dy="13">infrastructure</tspan></text><path class="u" d="M1480 2957H1627"/></g>
<g id="rewa2"><text class="t" x="1628" y="2999">Rewa Solar project</text><path class="u" d="M1604 3006H1744"/></g>
<g id="inmp"><text class="t" x="1549" y="2996">In MP</text><path class="u" d="M1524 3003H1601"/></g>
<g id="bigasia"><text class="t" x="1424" y="2995">Biggest in Asia</text><path class="u" d="M1419 3002H1521"/></g>
<g id="kamuthi"><text class="t" x="1790" y="3047">Kamuthi, Tamil Nadu</text><path class="u" d="M1767 3054H1913"/></g>
<g id="worlds"><text class="t" x="1662" y="3047">World's largest</text><path class="u" d="M1639 3054H1764"/></g>
<g id="solproj"><text class="t" x="1546" y="3047">Solar project</text><path class="u" d="M1524 3054H1636"/></g>
<g id="mw648"><text class="t" x="1456" y="3045">648 MW</text><path class="u" d="M1429 3052H1521"/></g>
<g id="providing"><text class="t" x="1340" y="3045">Providing for</text><path class="u" d="M1335 3052H1426"/></g>
<g id="homes"><text class="t" x="1215" y="3044">2,00,000 homes</text><path class="u" d="M1210 3051H1332"/></g>
<g id="around42"><text class="t" x="1780" y="3091">Around 42 solar parks</text><path class="u" d="M1757 3098H1913"/></g>
<g id="stages"><text class="t" x="1584" y="3090">In different stages of launch</text><path class="u" d="M1580 3097H1754"/></g>
<g id="vgf"><text class="t" x="1933" y="3134">Viability Gap Funding<tspan x="1933" dy="13">schemes</tspan></text><path class="u" d="M1909 3154H2059"/></g>
<g id="fundfor"><text class="t" x="1840" y="3152">Fund for</text><path class="u" d="M1816 3159H1906"/></g>
<g id="settingup"><text class="t" x="1652" y="3135">Setting up grid-connected<tspan x="1652" dy="13">solar power</tspan></text><path class="u" d="M1626 3155H1813"/></g>
<g id="through2"><text class="t" x="1560" y="3150">Through</text><path class="u" d="M1534 3157H1623"/></g>
<g id="seci"><text class="t" x="1376" y="3136">Solar Energy Corporation<tspan x="1376" dy="13">of India (SECI)</tspan></text><path class="u" d="M1371 3156H1531"/></g>
<g id="canal"><text class="t" x="1884" y="3199">Canal bank/ Canal Top Scheme</text><path class="u" d="M1859 3206H2059"/></g>
<g id="pilot"><text class="t" x="1656" y="3196">Pilot-cum demonstration projects</text><path class="u" d="M1630 3203H1856"/></g>
<g id="gridpv"><text class="t" x="1442" y="3195">Grid-connected Solar PV plants</text><path class="u" d="M1438 3202H1627"/></g>
<g id="kusum"><text class="t" x="1964" y="3324">KUSUM scheme</text><path class="u" d="M1941 3331H2059"/></g>
<g id="krishi"><text class="t" x="1771" y="3241">Krishi Urja Suraksha evam<tspan x="1771" dy="13">Utthan Mahabhiyan</tspan></text><path class="u" d="M1766 3261H1929"/></g>
<g id="provide2"><text class="t" x="1875" y="3317">Provide</text><path class="u" d="M1853 3324H1929"/></g>
<g id="pumps"><text class="t" x="1760" y="3287">Solar pumps</text><path class="u" d="M1737 3294H1842"/></g>
<g id="farmers"><text class="t" x="1654" y="3285">To farmers</text><path class="u" d="M1651 3292H1734"/></g>
<g id="opport"><text class="t" x="1699" y="3328">Opportunity to generate<tspan x="1699" dy="13">solar energy</tspan></text><path class="u" d="M1673 3348H1842"/></g>
<g id="barren2"><text class="t" x="1504" y="3340">On uncultivable/barren land</text><path class="u" d="M1499 3347H1670"/></g>
<g id="target2"><text class="t" x="1881" y="3388">Target</text><path class="u" d="M1859 3395H1929"/></g>
<g id="mw25750"><text class="t" x="1774" y="3385">25,750 MW</text><path class="u" d="M1755 3392H1856"/></g>
<g id="by2022a"><text class="t" x="1685" y="3384">By 2022</text><path class="u" d="M1681 3391H1752"/></g>
<g id="rooftop2"><text class="t" x="1930" y="3463">Grid Connected Solar<tspan x="1930" dy="13">Rooftop Programs</tspan></text><path class="u" d="M1905 3483H2059"/></g>
<g id="achieving"><text class="t" x="1775" y="3436">Target for achieving</text><path class="u" d="M1751 3443H1896"/></g>
<g id="mw40000"><text class="t" x="1669" y="3433">40000 MW</text><path class="u" d="M1648 3440H1748"/></g>
<g id="by2022b"><text class="t" x="1580" y="3431">By 2022</text><path class="u" d="M1576 3438H1645"/></g>
<g id="sristi"><text class="t" x="1754" y="3475">Sustainable rooftop<tspan x="1754" dy="12">implementation of solar</tspan><tspan x="1754" dy="12">transfiguration of India</tspan><tspan x="1754" dy="12">(SRISTI)</tspan></text><path class="u" d="M1730 3519H1896"/></g>
<g id="promroof"><text class="t" x="1539" y="3512">For promotion of solar rooftops</text><path class="u" d="M1534 3519H1727"/></g>
<g id="capacity"><text class="t" x="1957" y="3591">Capacity building</text><path class="u" d="M1934 3598H2059"/></g>
<g id="surya"><text class="t" x="1801" y="3572">Suryamitra program</text><path class="u" d="M1776 3579H1923"/></g>
<g id="prepare"><text class="t" x="1650" y="3555">Prepare a qualified<tspan x="1650" dy="13">workforce</tspan></text><path class="u" d="M1623 3575H1773"/></g>
<g id="forsolar"><text class="t" x="1507" y="3567">For solar projects</text><path class="u" d="M1503 3574H1620"/></g>
<g id="skillind"><text class="t" x="1766" y="3619">National Skill India Mission</text><path class="u" d="M1741 3626H1923"/></g>
<g id="undertakes"><text class="t" x="1657" y="3617">Undertakes</text><path class="u" d="M1630 3624H1738"/></g>
<g id="certif"><text class="t" x="1468" y="3615">Skilling certificate courses</text><path class="u" d="M1464 3622H1627"/></g>
<g id="impsub"><text class="t" x="1920" y="3716">Import substitution and<tspan x="1920" dy="13">production thrust</tspan></text><path class="u" d="M1898 3736H2059"/></g>
<g id="imposed"><text class="t" x="1824" y="3663">Imposed</text><path class="u" d="M1801 3670H1887"/></g>
<g id="safeguard"><text class="t" x="1606" y="3662">Safeguard duty on solar imports</text><path class="u" d="M1601 3669H1798"/></g>
<g id="mnre2"><text class="t" x="1840" y="3725">MNRE</text><path class="u" d="M1816 3732H1887"/></g>
<g id="planning"><text class="t" x="1694" y="3724">Planning to launch</text><path class="u" d="M1669 3731H1813"/></g>
<g id="subvention"><text class="t" x="1499" y="3724">Interest subvention scheme</text><path class="u" d="M1473 3731H1666"/></g>
<g id="loansof"><text class="t" x="1388" y="3723">For loans of</text><path class="u" d="M1362 3730H1470"/></g>
<g id="cells3"><text class="t" x="1314" y="3706">Cells</text><path class="u" d="M1310 3713H1355"/></g>
<g id="wafer"><text class="t" x="1249" y="3737">Wafer production</text><path class="u" d="M1246 3744H1355"/></g>
<g id="domcont"><text class="t" x="1776" y="3777">Domestic content<tspan x="1776" dy="13">requirement</tspan></text><path class="u" d="M1751 3797H1887"/></g>
<g id="solmission"><text class="t" x="1621" y="3788">Under solar mission</text><path class="u" d="M1617 3795H1748"/></g>
<g id="intl2"><text class="t" x="1940" y="3871">International efforts</text><path class="u" d="M1916 3878H2059"/></g>
<g id="isa"><text class="t" x="1790" y="3832">International Solar<tspan x="1790" dy="13">Alliance</tspan></text><path class="u" d="M1766 3852H1907"/></g>
<g id="paris"><text class="t" x="1609" y="3844">Launched in Paris in 2015</text><path class="u" d="M1584 3851H1763"/></g>
<g id="tropical"><text class="t" x="1446" y="3841">For tropical countries</text><path class="u" d="M1423 3848H1581"/></g>
<g id="harness2"><text class="t" x="1271" y="3840">To harness solar energy</text><path class="u" d="M1266 3847H1420"/></g>
<g id="indcs2"><text class="t" x="1860" y="3888">INDCs</text><path class="u" d="M1834 3895H1907"/></g>
<g id="unfccc2"><text class="t" x="1732" y="3888">Under UNFCCC</text><path class="u" d="M1728 3895H1831"/></g>
</svg>
